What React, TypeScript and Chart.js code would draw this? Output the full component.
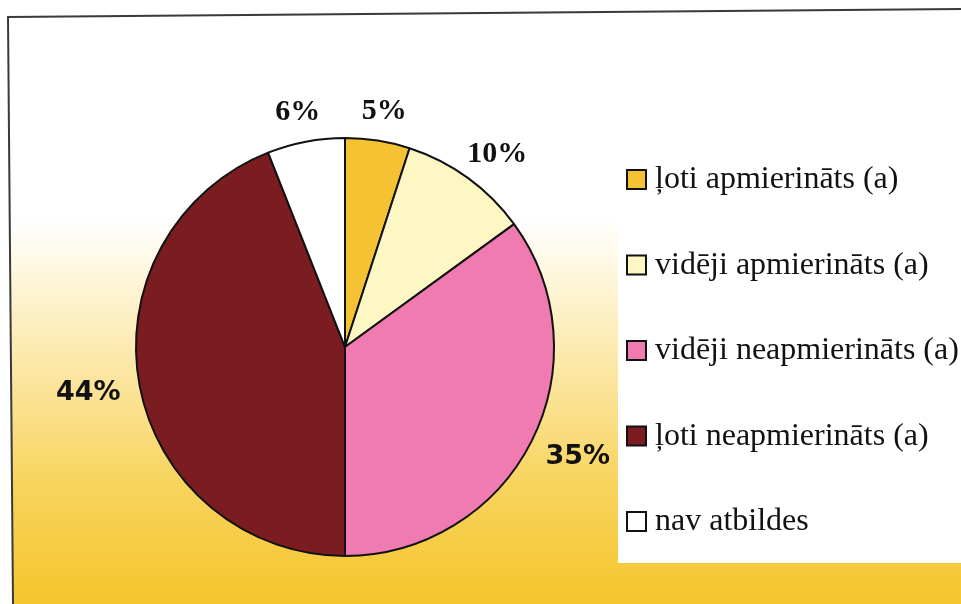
import React, { useEffect, useRef } from "react";
import { Chart, registerables } from "chart.js";

Chart.register(...registerables);

const categories = [
  "ļoti apmierināts (a)",
  "vidēji apmierināts (a)",
  "vidēji neapmierināts (a)",
  "ļoti neapmierināts (a)",
  "nav atbildes",
];
const values = [5, 10, 35, 44, 6];
const valueLabels = ["5%", "10%", "35%", "44%", "6%"];
const sliceColors = ["#f4c233", "#fdf7c4", "#ef7bb1", "#7b1c21", "#ffffff"];

const SERIF_BOLD = "bold 30px 'Liberation Serif', 'Times New Roman', serif";
const HEAVY_SANS = "bold 27px 'DejaVu Sans', sans-serif";
const labelFonts = [SERIF_BOLD, SERIF_BOLD, HEAVY_SANS, HEAVY_SANS, SERIF_BOLD];

const W = 961;
const H = 604;

const backgroundPlugin = {
  id: "bgFrame",
  beforeDraw(chart: any) {
    const ctx = chart.ctx as CanvasRenderingContext2D;
    ctx.save();
    ctx.fillStyle = "#ffffff";
    ctx.fillRect(0, 0, W, H);
    const g = ctx.createLinearGradient(0, 0, 0, H);
    g.addColorStop(0, "#ffffff");
    g.addColorStop(0.36, "#ffffff");
    g.addColorStop(0.47, "#fef5d8");
    g.addColorStop(0.64, "#fbe49a");
    g.addColorStop(0.8, "#f8d45e");
    g.addColorStop(1, "#f5c52c");
    ctx.fillStyle = g;
    ctx.beginPath();
    ctx.moveTo(8, 17);
    ctx.lineTo(W, 9);
    ctx.lineTo(W, H);
    ctx.lineTo(13, H);
    ctx.closePath();
    ctx.fill();
    ctx.strokeStyle = "#3a3a3a";
    ctx.lineWidth = 2;
    ctx.beginPath();
    ctx.moveTo(W, 9);
    ctx.lineTo(8, 17);
    ctx.lineTo(13, H);
    ctx.stroke();
    ctx.fillStyle = "#ffffff";
    ctx.fillRect(618, 146, W - 618, 563 - 146);
    ctx.restore();
  },
};

const labelsPlugin = {
  id: "outerLabels",
  afterDatasetsDraw(chart: any) {
    const ctx = chart.ctx as CanvasRenderingContext2D;
    const meta = chart.getDatasetMeta(0);
    ctx.save();
    ctx.fillStyle = "#111111";
    ctx.textAlign = "center";
    ctx.textBaseline = "middle";
    meta.data.forEach((arc: any, i: number) => {
      const p = arc.getProps(["x", "y", "startAngle", "endAngle", "outerRadius"], true);
      const mid = (p.startAngle + p.endAngle) / 2;
      ctx.font = labelFonts[i];
      const w = ctx.measureText(valueLabels[i]).width;
      const h = 22;
      const d = p.outerRadius + 20;
      const cx = Math.cos(mid);
      const sy = Math.sin(mid);
      const x = p.x + cx * d + (w / 2) * cx;
      const y = p.y + sy * d + (h / 2) * sy;
      ctx.fillText(valueLabels[i], x, y + 1);
    });
    ctx.restore();
  },
};

const legendPlugin = {
  id: "sideLegend",
  afterDraw(chart: any) {
    const ctx = chart.ctx as CanvasRenderingContext2D;
    const labels: string[] = chart.data.labels;
    const colors: string[] = chart.data.datasets[0].backgroundColor;
    ctx.save();
    ctx.textBaseline = "middle";
    ctx.textAlign = "left";
    ctx.font = "32px 'Liberation Serif', 'Times New Roman', serif";
    const top = 179;
    const step = 85.5;
    labels.forEach((lab, i) => {
      const cy = top + i * step;
      ctx.fillStyle = colors[i];
      ctx.fillRect(627, cy - 9, 19, 19);
      ctx.strokeStyle = "#111111";
      ctx.lineWidth = 2;
      ctx.strokeRect(627, cy - 9, 19, 19);
      ctx.fillStyle = "#111111";
      ctx.fillText(lab, 655, cy + 1);
    });
    ctx.restore();
  },
};

export default function App() {
  const ref = useRef<HTMLCanvasElement | null>(null);
  useEffect(() => {
    if (!ref.current) return;
    const chart = new Chart(ref.current, {
      type: "pie",
      data: {
        labels: categories,
        datasets: [
          {
            data: values,
            backgroundColor: sliceColors,
            borderColor: "#111111",
            borderWidth: 2,
          },
        ],
      },
      options: {
        responsive: false,
        animation: false,
        devicePixelRatio: 1,
        layout: { padding: { left: 135, top: 137, right: W - 555, bottom: H - 557 } },
        plugins: {
          legend: { display: false },
          tooltip: { enabled: false },
        },
      },
      plugins: [backgroundPlugin, labelsPlugin, legendPlugin],
    });
    return () => chart.destroy();
  }, []);
  return (
    <div style={{ position: "absolute", left: 0, top: 0, width: W, height: H }}>
      <canvas ref={ref} width={W} height={H} style={{ display: "block" }} />
    </div>
  );
}
